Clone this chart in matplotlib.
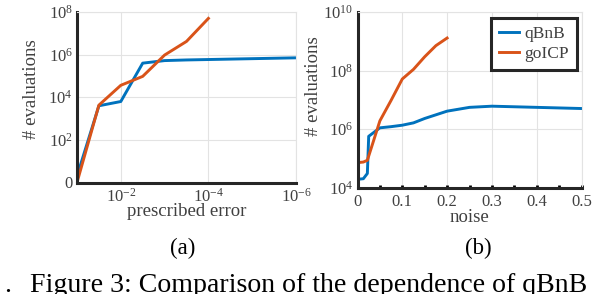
import numpy as np
import matplotlib
matplotlib.use('Agg')
import matplotlib.pyplot as plt

plt.rcParams['font.family'] = ['Liberation Serif', 'DejaVu Serif']
plt.rcParams['mathtext.fontset'] = 'custom'
plt.rcParams['mathtext.rm'] = 'Liberation Serif'
plt.rcParams['mathtext.it'] = 'Liberation Serif:italic'

# dane (a): wymagany blad vs liczba ewaluacji
err_a = [1e-1, 10**-1.5, 1e-2, 10**-2.5, 1e-3, 10**-3.5, 1e-4, 10**-4.5, 1e-5, 10**-5.5, 1e-6]
qbnb_a = [10**0.3, 10**3.6, 10**3.8, 10**5.6, 10**5.72, 10**5.75, 10**5.77, 10**5.79, 10**5.81, 10**5.83, 10**5.85]
err_a_go = [1e-1, 10**-1.5, 1e-2, 10**-2.5, 1e-3, 10**-3.5, 1e-4]
goicp_a = [10**0.0, 10**3.63, 10**4.56, 10**4.98, 10**5.98, 10**6.62, 10**7.7]

# dane (b): szum vs liczba ewaluacji
noise_q = [0, 0.013, 0.022, 0.025, 0.05, 0.075, 0.1, 0.125, 0.15, 0.2, 0.25, 0.3, 0.35, 0.4, 0.45, 0.5]
qbnb_b = [10**4.28, 10**4.3, 10**4.48, 10**5.75, 10**6.04, 10**6.08, 10**6.13, 10**6.21, 10**6.36,
          10**6.61, 10**6.74, 10**6.78, 10**6.76, 10**6.74, 10**6.72, 10**6.70]
noise_g = [0, 0.013, 0.022, 0.05, 0.075, 0.1, 0.125, 0.15, 0.175, 0.2]
goicp_b = [10**4.85, 10**4.87, 10**4.93, 10**6.28, 10**6.98, 10**7.71, 10**8.04, 10**8.47, 10**8.85, 10**9.11]

blue = '#0072BD'
orange = '#D95319'
dark = '#262626'
txt = '#404040'
gridc = '#e3e3e3'

fig = plt.figure(figsize=(5.92, 2.94), dpi=100)
ax1 = fig.add_axes([77 / 592, 111.5 / 294, 219 / 592, 170.5 / 294])
ax2 = fig.add_axes([357.5 / 592, 106.5 / 294, 224 / 592, 175.5 / 294])


def styl(ax):
    for s in ['left', 'bottom']:
        ax.spines[s].set_linewidth(2.2)
        ax.spines[s].set_color(dark)
    for s in ['top', 'right']:
        ax.spines[s].set_linewidth(0.8)
        ax.spines[s].set_color(gridc)
    ax.grid(True, color=gridc, linewidth=0.8)
    ax.set_axisbelow(True)
    ax.tick_params(axis='both', which='both', labelsize=12, labelcolor=txt, length=0, pad=4)
    ax.tick_params(axis='y', pad=3)


# (a)
ax1.plot(err_a, qbnb_a, color=blue, lw=2.1)
ax1.plot(err_a_go, goicp_a, color=orange, lw=2.1)
ax1.set_xscale('log')
ax1.set_yscale('log')
ax1.set_xlim(1e-1, 1e-6)
ax1.set_ylim(1, 1e8)
ax1.set_xticks([1e-2, 1e-4, 1e-6])
ax1.set_xticklabels([r'$10^{-2}$', r'$10^{-4}$', r'$10^{-6}$'])
ax1.set_yticks([1, 1e2, 1e4, 1e6, 1e8])
ax1.set_yticklabels(['0', r'$10^{2}$', r'$10^{4}$', r'$10^{6}$', r'$10^{8}$'])
ax1.minorticks_off()
styl(ax1)
ax1.set_xlabel('prescribed error', fontsize=13.5, color=txt)
ax1.xaxis.set_label_coords(0.5, (183 - 212.5) / 170.5)
ax1.xaxis.label.set_va('center')
ax1.set_ylabel('# evaluations', fontsize=13.5, color=txt)
ax1.yaxis.set_label_coords((40 - 77) / 219, 0.55)

# (b)
ax2.plot(noise_q, qbnb_b, color=blue, lw=2.1, label='qBnB')
ax2.plot(noise_g, goicp_b, color=orange, lw=2.1, label='goICP')
ax2.set_yscale('log')
ax2.set_xlim(0, 0.5)
ax2.set_ylim(1e4, 1e10)
ax2.set_xticks([0, 0.1, 0.2, 0.3, 0.4, 0.5])
ax2.set_xticklabels(['0', '0.1', '0.2', '0.3', '0.4', '0.5'])
ax2.set_xticks([0.05, 0.15, 0.25, 0.35, 0.45], minor=True)
ax2.set_yticks([1e4, 1e6, 1e8, 1e10])
ax2.set_yticklabels([r'$10^{4}$', r'$10^{6}$', r'$10^{8}$', r'$10^{10}$'])
ax2.yaxis.set_minor_locator(matplotlib.ticker.NullLocator())
styl(ax2)
ax2.tick_params(axis='x', which='both', direction='in', length=2.5, width=2, color='black', pad=5)
ax2.set_xlabel('noise', fontsize=13.5, color=txt)
ax2.xaxis.set_label_coords(0.5, (187.5 - 217) / 175.5)
ax2.xaxis.label.set_va('center')
ax2.set_ylabel('# evaluations', fontsize=13.5, color=txt)
ax2.yaxis.set_label_coords((322 - 357.5) / 224, 0.578)
leg = ax2.legend(loc='upper right', fontsize=12.5, handlelength=1.15, handletextpad=0.35,
                 borderpad=0.45, labelspacing=0.2, fancybox=False, framealpha=1,
                 borderaxespad=0, bbox_to_anchor=(0.98, 0.965))
leg.get_frame().set_edgecolor(dark)
leg.get_frame().set_linewidth(2.2)
for t in leg.get_texts():
    t.set_color(txt)

fig.text(183 / 592, 1 - 248 / 294, '(a)', fontsize=16.5, ha='center', va='center')
fig.text(478 / 592, 1 - 248 / 294, '(b)', fontsize=16.5, ha='center', va='center')
fig.text(30 / 592, 1 - 292 / 294, 'Figure 3: Comparison of the dependence of qBnB', fontsize=20.1,
         ha='left', va='baseline')
fig.text(4 / 592, 1 - 292 / 294, '.', fontsize=20.1, ha='left', va='baseline')

fig.savefig('out.png', dpi=100)
